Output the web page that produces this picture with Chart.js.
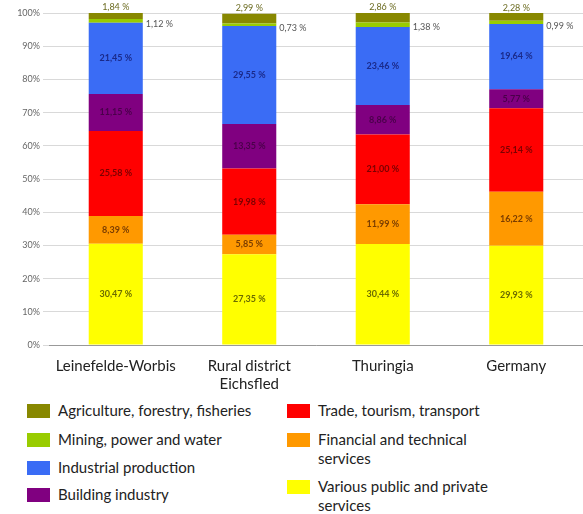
<!DOCTYPE html>
<html><head><meta charset="utf-8">
<script src="https://cdn.jsdelivr.net/npm/chart.js@4"></script>
<style>
html,body{margin:0;padding:0;background:#fff;}
#wrap{position:relative;width:583px;height:514px;overflow:hidden;}
#c{position:absolute;left:0;top:0;}
.leg{position:absolute;font-family:Lato,"DejaVu Sans",sans-serif;font-size:15px;color:#222;line-height:19px;}
.sw{position:absolute;width:23px;height:14px;}
</style></head>
<body><div id="wrap"><canvas id="c" width="583" height="400"></canvas><div id="legend"></div></div>
<script>
const categories = [["Leinefelde-Worbis"], ["Rural district","Eichsfled"], ["Thuringia"], ["Germany"]];
const seriesNames = ["Various public and private services","Financial and technical services","Trade, tourism, transport","Building industry","Industrial production","Mining, power and water","Agriculture, forestry, fisheries"];
const various    = [30.47, 27.35, 30.44, 29.93];
const financial  = [8.39, 5.85, 11.99, 16.22];
const trade      = [25.58, 19.98, 21.00, 25.14];
const building   = [11.15, 13.35, 8.86, 5.77];
const industrial = [21.45, 29.55, 23.46, 19.64];
const mining     = [1.12, 0.73, 1.38, 0.99];
const agriculture= [1.84, 2.99, 2.86, 2.28];
const yTicks = [0,10,20,30,40,50,60,70,80,90,100];

const colors = ["#ffff00","#ff9900","#ff0000","#800080","#3a6cf5","#99cc00","#888800"];
const labelColors = ["#6b6b00","#7a3d00","#7a0000","#4a004a","#1a2a8a","#555555","#6b6b20"];
const series = [various, financial, trade, building, industrial, mining, agriculture];

const fmt = v => v.toFixed(2).replace('.', ',') + ' %';

const labelPlugin = {
  id: 'segLabels',
  afterDatasetsDraw(chart) {
    const ctx = chart.ctx;
    ctx.save();
    chart.data.datasets.forEach((ds, i) => {
      const meta = chart.getDatasetMeta(i);
      meta.data.forEach((bar, j) => {
        const v = ds.data[j];
        ctx.fillStyle = labelColors[i];
        if (i < 5) {
          ctx.font = 'bold 9px Lato, "DejaVu Sans", sans-serif';
          ctx.textAlign = 'center'; ctx.textBaseline = 'middle';
          ctx.fillText(fmt(v), bar.x, (bar.y + bar.base) / 2);
        } else if (i === 5) {
          ctx.font = '9px Lato, "DejaVu Sans", sans-serif';
          ctx.textAlign = 'left'; ctx.textBaseline = 'middle';
          ctx.fillText(fmt(v), bar.x + bar.width / 2 + 3, bar.y + 5);
        } else {
          ctx.font = '9px Lato, "DejaVu Sans", sans-serif';
          ctx.textAlign = 'center'; ctx.textBaseline = 'bottom';
          ctx.fillText(fmt(v), bar.x, bar.y - 1);
        }
      });
    });
    ctx.restore();
  }
};

new Chart(document.getElementById('c'), {
  type: 'bar',
  data: {
    labels: categories,
    datasets: series.map((d, i) => ({
      label: seriesNames[i], data: d, backgroundColor: colors[i],
      borderWidth: 0, barPercentage: 0.405, categoryPercentage: 1
    }))
  },
  options: {
    responsive: false, animation: false,
    layout: { padding: { top: 13, right: 0, left: 0, bottom: 0 } },
    plugins: { legend: { display: false }, tooltip: { enabled: false } },
    scales: {
      x: {
        stacked: true,
        grid: { display: false, drawTicks: false },
        border: { color: '#999' },
        ticks: { color: '#222', padding: 12, font: { family: 'Lato, "DejaVu Sans", sans-serif', size: 15 } },
        afterFit(s) { s.height = 55; }
      },
      y: {
        stacked: true, min: 0, max: 100,
        afterBuildTicks(s) { s.ticks = yTicks.map(v => ({ value: v })); },
        grid: { color: '#d9d9d9', tickLength: 6 },
        border: { display: false },
        ticks: { color: '#666', padding: 3, font: { family: 'Lato, "DejaVu Sans", sans-serif', size: 9 }, callback: v => v + '%' },
        afterFit(s) { s.width = 49; }
      }
    }
  },
  plugins: [labelPlugin]
});

// HTML legend
const legend = document.getElementById('legend');
const legendLayout = [
  [6, 27, 402], [5, 27, 431], [4, 27, 459], [3, 27, 486],
  [2, 287, 402], [1, 287, 431], [0, 287, 478]
];
const legendTexts = {6:"Agriculture, forestry, fisheries",5:"Mining, power and water",4:"Industrial production",3:"Building industry",2:"Trade, tourism, transport",1:"Financial and technical<br>services",0:"Various public and private<br>services"};
legendLayout.forEach(([i, x, y]) => {
  const sw = document.createElement('div');
  sw.className = 'sw'; sw.style.left = x + 'px'; sw.style.top = (y + 2) + 'px'; sw.style.background = colors[i];
  legend.appendChild(sw);
  const t = document.createElement('div');
  t.className = 'leg'; t.style.left = (x + 31) + 'px'; t.style.top = (y - 1) + 'px';
  t.innerHTML = legendTexts[i];
  legend.appendChild(t);
});
</script></body></html>
